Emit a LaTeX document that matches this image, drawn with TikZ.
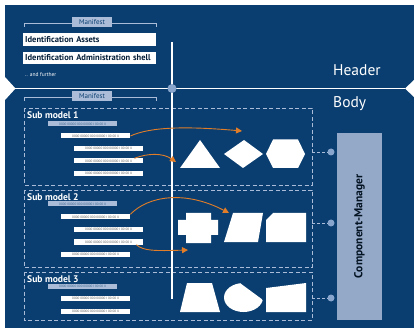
\documentclass[tikz,border=0pt]{standalone}
\usepackage{fontspec}
\setmainfont{PT Sans}
\usetikzlibrary{arrows.meta}

\definecolor{aasblue}{RGB}{10,62,112}
\definecolor{paleblue}{RGB}{170,188,216}
\definecolor{mgrblue}{RGB}{148,168,200}
\definecolor{dotblue}{RGB}{135,165,205}
\definecolor{flowor}{RGB}{225,125,40}

\newcommand{\rowcode}{0000 00000 000 00000 I 00 00 X}

\tikzset{
	manilabel/.style={fill=paleblue, text=aasblue, font=\fontsize{7}{7}\selectfont, minimum width=40pt, minimum height=10pt, inner sep=0pt},
	idbox/.style={fill=white, text=aasblue!50!black, font=\bfseries\fontsize{8.5}{9}\selectfont, text width=129pt, inner xsep=2pt, inner ysep=0pt, minimum height=12.5pt, align=left, anchor=west},
	bar/.style={fill=white, text=gray!70!black, font=\fontsize{3.3}{3.5}\selectfont, minimum width=69pt, minimum height=5pt, inner sep=0pt, anchor=west},
	keybar/.style={bar, fill=paleblue, text=aasblue!80},
	subbox/.style={draw=paleblue, dash pattern=on 4pt off 2.5pt, line width=0.8pt},
	sublabel/.style={text=white, font=\bfseries\fontsize{9.6}{10}\selectfont, anchor=west, inner sep=0pt},
	dot/.style={circle, fill=dotblue, minimum size=7pt, inner sep=0pt},
	flow/.style={draw=flowor, line width=0.9pt, -{Triangle[length=6pt,width=6pt]}},
	bigword/.style={text=white, font=\fontsize{15.5}{16}\selectfont, anchor=west, inner sep=0pt}
}

\begin{document}
\begin{tikzpicture}[x=1pt,y=-1pt]
	\useasboundingbox (0,0) rectangle (414,328);

	% background with the two notches
	\fill[aasblue] (5,5) rectangle (414,328);
	\fill[white] (5,77) -- (15.5,88.5) -- (5,100) -- cycle;
	\fill[white] (414,80) -- (405,88.5) -- (414,97) -- cycle;

	\node[bigword] (header) at (333,70) {Header};
	\node[bigword] (body) at (333,104) {Body};

	% manifests
	\foreach \y/\n in {23/manhead, 97/manbody} {
		\draw[paleblue, line width=0.7pt] (24,\y+4) -- (24,\y) -- (156,\y) -- (156,\y+4);
		\node[manilabel] (\n) at (92,\y-1) {Manifest};
	};
	\node[idbox] (assets) at (23,39.5) {Identification Assets};
	\node[idbox] (shell) at (23,58) {Identification Administration shell};
	\node[text=white, font=\fontsize{5.5}{6}\selectfont, anchor=west, inner sep=0pt] (further) at (25,75) {.. and further};

	% sub models
	\foreach \t/\b [count=\i] in {108/185,190/267,272/320} {
		\draw[subbox] (24,\t) rectangle (312,\b);
		\node[sublabel] (sub\i) at (27,\t+7) {Sub model \i};
	};
	\foreach \y/\n in {124/s1a, 204/s2a, 286/s3a}
		\node[keybar] (\n) at (48,\y) {\rowcode};
	\foreach \x/\y/\n in {61/136/s1b, 74/148.5/s1c, 74/161/s1d, 74/173.5/s1e, 61/217/s2b, 74/229.5/s2c, 74/242/s2d, 61/254.5/s2e, 61/298.5/s3b, 61/311/s3c}
		\node[bar] (\n) at (\x,\y) {\rowcode};

	% header/body split
	\draw[white, line width=1.2pt] (15,88.5) -- (405,88.5);
	\draw[white, line width=1.2pt] (172,42) -- (172,299);
	\node[dot, minimum size=9pt] (hub) at (172,88.5) {};

	% shapes, sub model 1
	\fill[white] (180,168) -- (200,140) -- (220,168) -- cycle;
	\fill[white] (224,154) -- (244,140) -- (263,154) -- (243,168) -- cycle;
	\fill[white] (266,154) -- (273,139.5) -- (298,139.5) -- (305,154) -- (298,168) -- (273,168) -- cycle;
	% shapes, sub model 2
	\fill[white] (186,213) -- (211,213) -- (211,220) -- (218,220) -- (218,235) -- (211,235) -- (211,243) -- (186,243) -- (186,235) -- (178,235) -- (178,220) -- (186,220) -- cycle;
	\fill[white] (224,242) -- (233,213) -- (263,213) -- (258,242) -- cycle;
	\fill[white] (266,220) -- (273,213) -- (306,213) -- (306,242) -- (266,242) -- cycle;
	% shapes, sub model 3
	\fill[white] (180,312) -- (187,283) -- (212,283) -- (220,312) -- cycle;
	\begin{scope}
		\clip (215,272) -- (225,272) -- (268,303.7) -- (268,318) -- (215,318) -- cycle;
		\fill[white] (243.5,297.5) ellipse [x radius=19.5, y radius=14.5];
	\end{scope}
	\fill[white] (266,288) -- (306,283) -- (306,312) -- (266,312) -- cycle;

	% orange flows
	\coordinate (t1) at (242,131);
	\coordinate (t2) at (176,162);
	\coordinate (t3) at (229,213);
	\coordinate (t4) at (188,250);
	\draw[flow] (s1b.east) .. controls (150,127) and (185,126) .. (t1);
	\draw[flow] ([xshift=-9pt]s1d.north east) .. controls (148,153) and (163,153) .. (t2);
	\draw[flow] (s2b.north east) .. controls (148,196) and (185,190) .. (t3);
	\draw[flow] ([xshift=-7pt]s2d.south east) .. controls (143,251) and (155,251) .. (t4);

	% component manager
	\node[fill=mgrblue, rotate=90, minimum width=187pt, minimum height=45pt, inner sep=0pt, text=aasblue!30!black, font=\bfseries\fontsize{11.5}{12}\selectfont] (manager) at (359.5,226.5) {Component-Manager};
	\foreach \y [count=\i] in {152,223,298} {
		\coordinate (edge\i) at (312,\y);
		\node[dot] (port\i) at (331,\y) {};
		\draw[paleblue, line width=0.8pt, dash pattern=on 3pt off 2pt] (edge\i) -- (port\i);
	};
\end{tikzpicture}
\end{document}
